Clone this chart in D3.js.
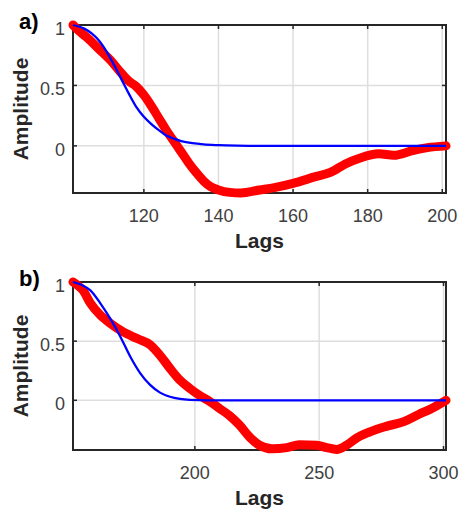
<!DOCTYPE html>
<html><head><meta charset="utf-8">
<script src="https://cdn.jsdelivr.net/npm/d3@7"></script>
<style>body{margin:0;background:#fff}svg{display:block}</style>
</head><body>
<script>
// Panel a data
const redLagsA = [101,103,105,108,111,114,116,118,120,122,124,126,128,130,132,134,136,138,140,143,146,151,155,160,166,170,174,178,183,187,192,196,201];
const redValsA = [1.0,0.94,0.89,0.80,0.71,0.60,0.535,0.49,0.42,0.33,0.23,0.13,0.04,-0.05,-0.14,-0.22,-0.29,-0.34,-0.365,-0.385,-0.39,-0.365,-0.345,-0.31,-0.255,-0.22,-0.15,-0.10,-0.066,-0.078,-0.04,-0.015,0.0];
const blueLagsA = [101,104,106,108,110,112,114,116,118,120,122,124,126,128,130,133,136,140,145,150,201];
const blueValsA = [1.0,0.97,0.93,0.87,0.78,0.67,0.55,0.43,0.32,0.24,0.18,0.13,0.085,0.06,0.04,0.022,0.012,0.006,0.002,0,0];
const xTicksA = [120,140,160,180,200];
// Panel b data
const redLagsB = [151,153,155,158,162,166,171,177,182,186,190,194,198,202,206,210,214,218,222,226,231,237,242,249,253,257,261,265,270,277,284,290,296,301];
const redValsB = [1.0,0.97,0.93,0.82,0.72,0.65,0.58,0.52,0.47,0.38,0.27,0.17,0.10,0.04,-0.01,-0.07,-0.13,-0.21,-0.31,-0.38,-0.41,-0.40,-0.375,-0.38,-0.40,-0.415,-0.38,-0.32,-0.27,-0.22,-0.18,-0.12,-0.06,0.0];
const blueLagsB = [151,155,158,162,166,170,174,178,182,186,190,194,198,205,301];
const blueValsB = [1.0,0.97,0.93,0.82,0.69,0.54,0.37,0.23,0.13,0.065,0.03,0.012,0.004,0,0];
const xTicksB = [200,250,300];
const yTicks = [0,0.5,1];

const W = 459, H = 512;
const svg = d3.select("body").append("svg").attr("width", W).attr("height", H);
const font = "'Liberation Sans', Arial, Helvetica, sans-serif";

function panel(opts){
  const {top, bottom, left, right, xDomain, yDomain, xTicks, label, red, blue} = opts;
  const x = d3.scaleLinear().domain(xDomain).range([left, right]);
  const y = d3.scaleLinear().domain(yDomain).range([bottom, top]);
  const g = svg.append("g");
  g.append("rect").attr("x", left).attr("y", top).attr("width", right-left).attr("height", bottom-top).attr("fill", "#fff");
  // grid
  g.selectAll(".gx").data(xTicks).join("line")
    .attr("x1", d=>x(d)).attr("x2", d=>x(d)).attr("y1", top).attr("y2", bottom)
    .attr("stroke", "#dedede").attr("stroke-width", 1.5);
  g.selectAll(".gy").data(yTicks).join("line")
    .attr("y1", d=>y(d)).attr("y2", d=>y(d)).attr("x1", left).attr("x2", right)
    .attr("stroke", "#dedede").attr("stroke-width", 1.5);
  // inward ticks on all sides
  const tl = 4;
  const tk = g.append("g").attr("stroke", "#262626").attr("stroke-width", 1.5);
  xTicks.forEach(t=>{
    tk.append("line").attr("x1", x(t)).attr("x2", x(t)).attr("y1", bottom).attr("y2", bottom-tl);
    tk.append("line").attr("x1", x(t)).attr("x2", x(t)).attr("y1", top).attr("y2", top+tl);
  });
  yTicks.forEach(t=>{
    tk.append("line").attr("y1", y(t)).attr("y2", y(t)).attr("x1", left).attr("x2", left+tl);
    tk.append("line").attr("y1", y(t)).attr("y2", y(t)).attr("x1", right).attr("x2", right-tl);
  });
  // border
  g.append("rect").attr("x", left).attr("y", top).attr("width", right-left).attr("height", bottom-top)
    .attr("fill", "none").attr("stroke", "#262626").attr("stroke-width", 2);
  // tick labels
  g.selectAll(".xl").data(xTicks).join("text")
    .attr("x", d=>x(d)).attr("y", bottom+29).attr("text-anchor", "middle")
    .attr("font-family", font).attr("font-size", 18).attr("fill", "#404040").text(d=>d);
  g.selectAll(".yl").data(yTicks).join("text")
    .attr("x", left-8).attr("y", d=>y(d)+10).attr("text-anchor", "end")
    .attr("font-family", font).attr("font-size", 18).attr("fill", "#404040").text(d=>d);
  // axis labels
  g.append("text").attr("x", (left+right)/2).attr("y", bottom+55).attr("text-anchor", "middle")
    .attr("font-family", font).attr("font-size", 21).attr("font-weight", "bold").attr("fill", "#262626").text("Lags");
  g.append("text").attr("transform", `translate(28,${(top+bottom)/2}) rotate(-90)`).attr("text-anchor", "middle")
    .attr("font-family", font).attr("font-size", 21).attr("font-weight", "bold").attr("fill", "#262626").text("Amplitude");
  g.append("text").attr("x", 19).attr("y", top+4).attr("font-family", font).attr("font-size", 22)
    .attr("font-weight", "bold").attr("fill", "#000").text(label);
  // lines
  const line = d3.line().x(d=>x(d[0])).y(d=>y(d[1])).curve(d3.curveMonotoneX);
  g.append("path").datum(d3.zip(red[0], red[1])).attr("d", line)
    .attr("fill", "none").attr("stroke", "#ff0000").attr("stroke-width", 9)
    .attr("stroke-linecap", "round").attr("stroke-linejoin", "round");
  g.append("path").datum(d3.zip(blue[0], blue[1])).attr("d", line)
    .attr("fill", "none").attr("stroke", "#0000ff").attr("stroke-width", 2.3);
}

panel({top:25, bottom:193, left:73, right:446, xDomain:[101,201], yDomain:[-0.39,1], xTicks:xTicksA, label:"a)",
  red:[redLagsA, redValsA], blue:[blueLagsA, blueValsA]});
panel({top:282, bottom:450, left:73, right:446, xDomain:[151,301], yDomain:[-0.42,1], xTicks:xTicksB, label:"b)",
  red:[redLagsB, redValsB], blue:[blueLagsB, blueValsB]});
</script>
</body></html>
